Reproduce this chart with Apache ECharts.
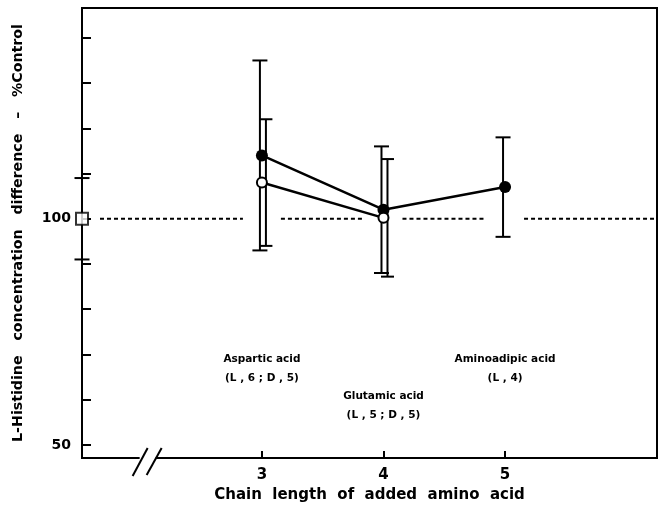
<!DOCTYPE html>
<html><head><meta charset="utf-8">
<script src="https://cdn.jsdelivr.net/npm/echarts@6/dist/echarts.min.js"></script>
<style>html,body{margin:0;padding:0;background:#fff}#c{width:658px;height:514px}</style>
</head><body><div id="c"></div>
<script>
// ---- data ----
const xTicks = [3, 4, 5];
const yTicks = [50, 60, 70, 80, 90, 100, 110, 120, 130, 140];
const yLabels = [50, 100];
const lX = [3, 4, 5];
const lMean = [114, 102, 107];
const lErr = [21, 14, 11];
const dX = [3, 4];
const dMean = [108, 100.2];
const dErr = [14, 13];
const controlMean = 100;
const controlErr = 9;
const refValue = 100;
const annotX = [3, 4, 5];
const annotY = [66.8, 58.7, 66.8];
const annotText = ['Aspartic acid\n(L , 6 ; D , 5)', 'Glutamic acid\n(L , 5 ; D , 5)', 'Aminoadipic acid\n(L , 4)'];
const xMin = 1.52, xMax = 6.25, yMin = 47.1, yMax = 146.6;
const axisBreakAt = 2.06;

const FONT = 'DejaVu Sans';
const chart = echarts.init(document.getElementById('c'));

function errBar(offset, capW) {
  return function (params, api) {
    const x = api.value(0), lo = api.value(1), hi = api.value(2);
    const pHi = api.coord([x, hi]), pLo = api.coord([x, lo]);
    const cx = pHi[0] + offset;
    const st = { stroke: '#000', lineWidth: 2 };
    return { type: 'group', children: [
      { type: 'line', shape: { x1: cx, y1: pHi[1], x2: cx, y2: pLo[1] }, style: st },
      { type: 'line', shape: { x1: cx - capW / 2, y1: pHi[1], x2: cx + capW / 2, y2: pHi[1] }, style: st },
      { type: 'line', shape: { x1: cx - capW / 2, y1: pLo[1], x2: cx + capW / 2, y2: pLo[1] }, style: st }
    ]};
  };
}

const option = {
  backgroundColor: '#fff',
  animation: false,
  grid: { left: 82, right: 1, top: 8, bottom: 56, show: true, borderColor: '#000', borderWidth: 2 },
  xAxis: {
    type: 'value', min: xMin, max: xMax,
    name: 'Chain  length  of  added  amino  acid', nameLocation: 'middle', nameGap: 29,
    nameTextStyle: { fontFamily: FONT, fontWeight: 'bold', fontSize: 15, color: '#000' },
    axisLine: { show: true, lineStyle: { color: '#000', width: 2 } },
    axisTick: { show: true, inside: true, length: 7, customValues: xTicks, lineStyle: { color: '#000', width: 2 } },
    axisLabel: { show: true, customValues: xTicks, margin: 10, fontFamily: FONT, fontWeight: 'bold', fontSize: 15, color: '#000' },
    splitLine: { show: false }
  },
  yAxis: {
    type: 'value', min: yMin, max: yMax,
    name: 'L-Histidine   concentration   difference   –   %Control', nameLocation: 'middle', nameGap: 57,
    nameTextStyle: { fontFamily: FONT, fontWeight: 'bold', fontSize: 14.2, color: '#000' },
    axisLine: { show: true, lineStyle: { color: '#000', width: 2 } },
    axisTick: { show: true, inside: true, length: 9, customValues: yTicks, lineStyle: { color: '#000', width: 2 } },
    axisLabel: { show: true, customValues: yLabels, margin: 11, fontFamily: FONT, fontWeight: 'bold', fontSize: 14, color: '#000' },
    splitLine: { show: false }
  },
  series: [
    { // dotted reference line at 100 % control
      type: 'custom', z: 1, silent: true, clip: false,
      data: [[refValue]],
      renderItem: function (params, api) {
        const pL = api.coord([xMin, refValue]);
        const pR = api.coord([xMax, refValue]);
        const y = pL[1];
        const gapsC = xTicks.map(v => api.coord([v, refValue])[0]);
        const segs = []; let s = pL[0] + 18;
        gapsC.forEach(g => { segs.push([s, g - 19]); s = g + 19; });
        segs.push([s, pR[0] - 3]);
        return { type: 'group', children: segs.map(sg => ({
          type: 'line', shape: { x1: sg[0], y1: y, x2: sg[1], y2: y },
          style: { stroke: '#000', lineWidth: 1.8, lineDash: [4, 3] }
        })) };
      }
    },
    { type: 'custom', z: 2, clip: false, silent: true,
      data: lX.map((x, i) => [x, lMean[i] - lErr[i], lMean[i] + lErr[i]]),
      renderItem: errBar(-2, 15) },
    { type: 'custom', z: 2, clip: false, silent: true,
      data: dX.map((x, i) => [x, dMean[i] - dErr[i], dMean[i] + dErr[i]]),
      renderItem: errBar(4, 13) },
    { type: 'custom', z: 2, clip: false, silent: true,
      data: [[xMin, controlMean - controlErr, controlMean + controlErr]],
      renderItem: errBar(0, 15) },
    { type: 'line', z: 4, clip: false,
      data: lX.map((x, i) => [x, lMean[i]]),
      symbol: 'circle', symbolSize: 12, showSymbol: true,
      itemStyle: { color: '#000', borderColor: '#000', borderWidth: 0 },
      lineStyle: { color: '#000', width: 2.5 } },
    { type: 'line', z: 4, clip: false,
      data: dX.map((x, i) => [x, dMean[i]]),
      symbol: 'circle', symbolSize: 10, showSymbol: true,
      itemStyle: { color: '#fff', borderColor: '#000', borderWidth: 2 },
      lineStyle: { color: '#000', width: 2.5 } },
    { type: 'scatter', z: 5, clip: false,
      data: [[xMin, controlMean]],
      symbol: 'rect', symbolSize: 12,
      itemStyle: { color: '#fff', borderColor: '#000', borderWidth: 2 } },
    { // compound annotations
      type: 'custom', z: 5, silent: true, clip: false,
      data: annotX.map((x, i) => [x, annotY[i], i]),
      renderItem: function (params, api) {
        const p = api.coord([api.value(0), api.value(1)]);
        return { type: 'text', x: p[0], y: p[1], style: {
          text: annotText[api.value(2)], fill: '#000', font: 'bold 10.5px "DejaVu Sans"',
          align: 'center', verticalAlign: 'middle', lineHeight: 19 } };
      }
    }
  ]
};
chart.setOption(option);

// axis break mark "//" on the x axis
const bp = chart.convertToPixel({ gridIndex: 0 }, [axisBreakAt, yMin]);
const bx = bp[0], by = bp[1];
chart.setOption({ graphic: [
  { type: 'rect', shape: { x: bx - 8, y: by - 3, width: 16, height: 6 }, style: { fill: '#fff' }, z: 100 },
  { type: 'line', shape: { x1: bx - 15, y1: by + 18, x2: bx - 0, y2: by - 10 }, style: { stroke: '#000', lineWidth: 2 }, z: 101 },
  { type: 'line', shape: { x1: bx - 1, y1: by + 17, x2: bx + 14, y2: by - 10 }, style: { stroke: '#000', lineWidth: 2 }, z: 101 }
] });
</script>
</body></html>
